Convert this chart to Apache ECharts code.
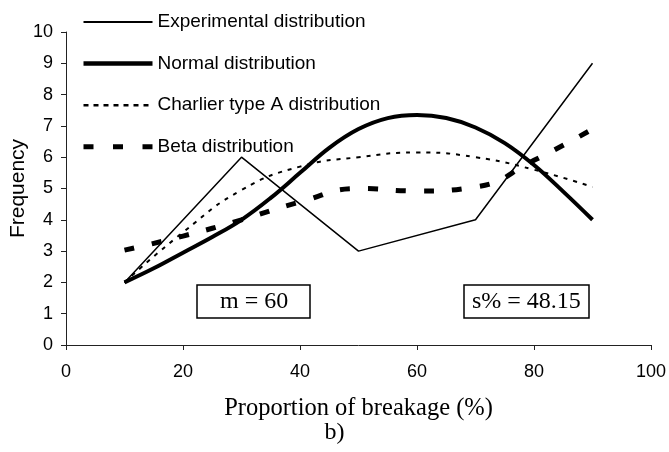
<!DOCTYPE html>
<html>
<head>
<meta charset="utf-8">
<script src="https://cdn.jsdelivr.net/npm/echarts@6/dist/echarts.min.js"></script>
<style>html,body{margin:0;padding:0;background:#fff;}#chart{width:669px;height:452px;}</style>
</head>
<body>
<div id="chart"></div>
<script>
var xValues = [10, 15, 20, 25, 30, 35, 40, 45, 50, 55, 60, 65, 70, 75, 80, 85, 90];
var experimental = [2, null, null, null, 6, null, null, null, 3, null, null, null, 4, null, null, null, 9];
var normalDist = [2, 2.45, 2.95, 3.45, 4.0, 4.7, 5.5, 6.3, 6.9, 7.25, 7.35, 7.25, 6.95, 6.45, 5.75, 4.9, 4.0];
var charlier = [2, null, 3.6, null, 4.95, null, 5.7, null, 6.0, null, 6.15, null, 6.0, null, 5.6, null, 5.05];
var betaDist = [3.03, null, 3.48, null, 4.0, null, 4.57, null, 5.0, null, 4.92, null, 5.05, null, 5.9, null, 6.9];
var seriesNames = ['Experimental distribution', 'Normal distribution', 'Charlier type A distribution', 'Beta distribution'];
var yTicks = [0, 1, 2, 3, 4, 5, 6, 7, 8, 9, 10];
var xTicks = [0, 20, 40, 60, 80, 100];
var mText = 'm = 60';
var sText = 's% = 48.15';

function pairs(arr) {
  var out = [];
  for (var i = 0; i < xValues.length; i++) {
    if (arr[i] !== null) out.push([xValues[i], arr[i]]);
  }
  return out;
}

var sans = 'Arial, "Liberation Sans", sans-serif';
var serif = '"Times New Roman", "Liberation Serif", serif';

var chart = echarts.init(document.getElementById('chart'));
chart.setOption({
  animation: false,
  backgroundColor: '#fff',
  grid: { left: 66, right: 18, top: 32, bottom: 107, containLabel: false, outerBoundsMode: 'none' },
  title: [
    { text: mText, left: 197, top: 285, padding: [4, 22, 4, 23], borderColor: '#000', borderWidth: 1.5,
      textStyle: { fontFamily: serif, fontSize: 24, lineHeight: 25, fontWeight: 'normal', color: '#000' } },
    { text: sText, left: 464, top: 285, padding: [4, 8, 4, 8], borderColor: '#000', borderWidth: 1.5,
      textStyle: { fontFamily: serif, fontSize: 24, lineHeight: 25, fontWeight: 'normal', color: '#000' } },
    { text: 'b)', left: 'center', top: 421, padding: 0,
      textStyle: { fontFamily: serif, fontSize: 24, fontWeight: 'normal', color: '#000' } }
  ],
  legend: {
    orient: 'vertical',
    left: 81,
    top: 12,
    padding: 0,
    itemWidth: 69,
    itemHeight: 20,
    itemGap: 21.6,
    textStyle: { fontFamily: sans, fontSize: 19, lineHeight: 20, color: '#000' },
    data: [
      { name: seriesNames[0], itemStyle: { opacity: 0 }, lineStyle: { width: 2 } },
      { name: seriesNames[1], itemStyle: { opacity: 0 }, lineStyle: { width: 4.5 } },
      { name: seriesNames[2], itemStyle: { opacity: 0 }, lineStyle: { width: 2.5, type: [5, 5] } },
      { name: seriesNames[3], itemStyle: { opacity: 0 }, lineStyle: { width: 5, type: [10, 19.5] } }
    ]
  },
  xAxis: {
    type: 'value', min: 0, max: 100, interval: 20,
    name: 'Proportion of breakage (%)', nameLocation: 'middle', nameGap: 51,
    nameTextStyle: { fontFamily: serif, fontSize: 24.5, color: '#000' },
    axisLine: { lineStyle: { color: '#222', width: 1 } },
    axisTick: { show: true, length: 5, lineStyle: { color: '#222' } },
    axisLabel: { fontFamily: sans, fontSize: 18, color: '#000', margin: 18 },
    splitLine: { show: false }
  },
  yAxis: {
    type: 'value', min: 0, max: 10, interval: 1,
    name: 'Frequency', nameLocation: 'middle', nameGap: 37, nameRotate: 90, nameMoveOverlap: false,
    nameTextStyle: { fontFamily: sans, fontSize: 21, color: '#000' },
    axisLine: { show: true, lineStyle: { color: '#222', width: 1 } },
    axisTick: { show: true, length: 5, lineStyle: { color: '#222' } },
    axisLabel: { fontFamily: sans, fontSize: 18, color: '#000', margin: 13 },
    splitLine: { show: false }
  },
  series: [
    { name: seriesNames[0], type: 'line', data: pairs(experimental), symbol: 'none', color: '#000',
      lineStyle: { color: '#000', width: 1.5 }, z: 4 },
    { name: seriesNames[1], type: 'line', data: pairs(normalDist), symbol: 'none', smooth: 0.4, color: '#000',
      lineStyle: { color: '#000', width: 4 }, z: 3 },
    { name: seriesNames[2], type: 'line', data: pairs(charlier), symbol: 'none', smooth: 0.5, color: '#000',
      lineStyle: { color: '#000', width: 2, type: [4, 6] }, z: 2 },
    { name: seriesNames[3], type: 'line', data: pairs(betaDist), symbol: 'none', smooth: 0.5, color: '#000',
      lineStyle: { color: '#000', width: 5, type: [10, 18] }, z: 1 }
  ]
});
</script>
</body>
</html>
